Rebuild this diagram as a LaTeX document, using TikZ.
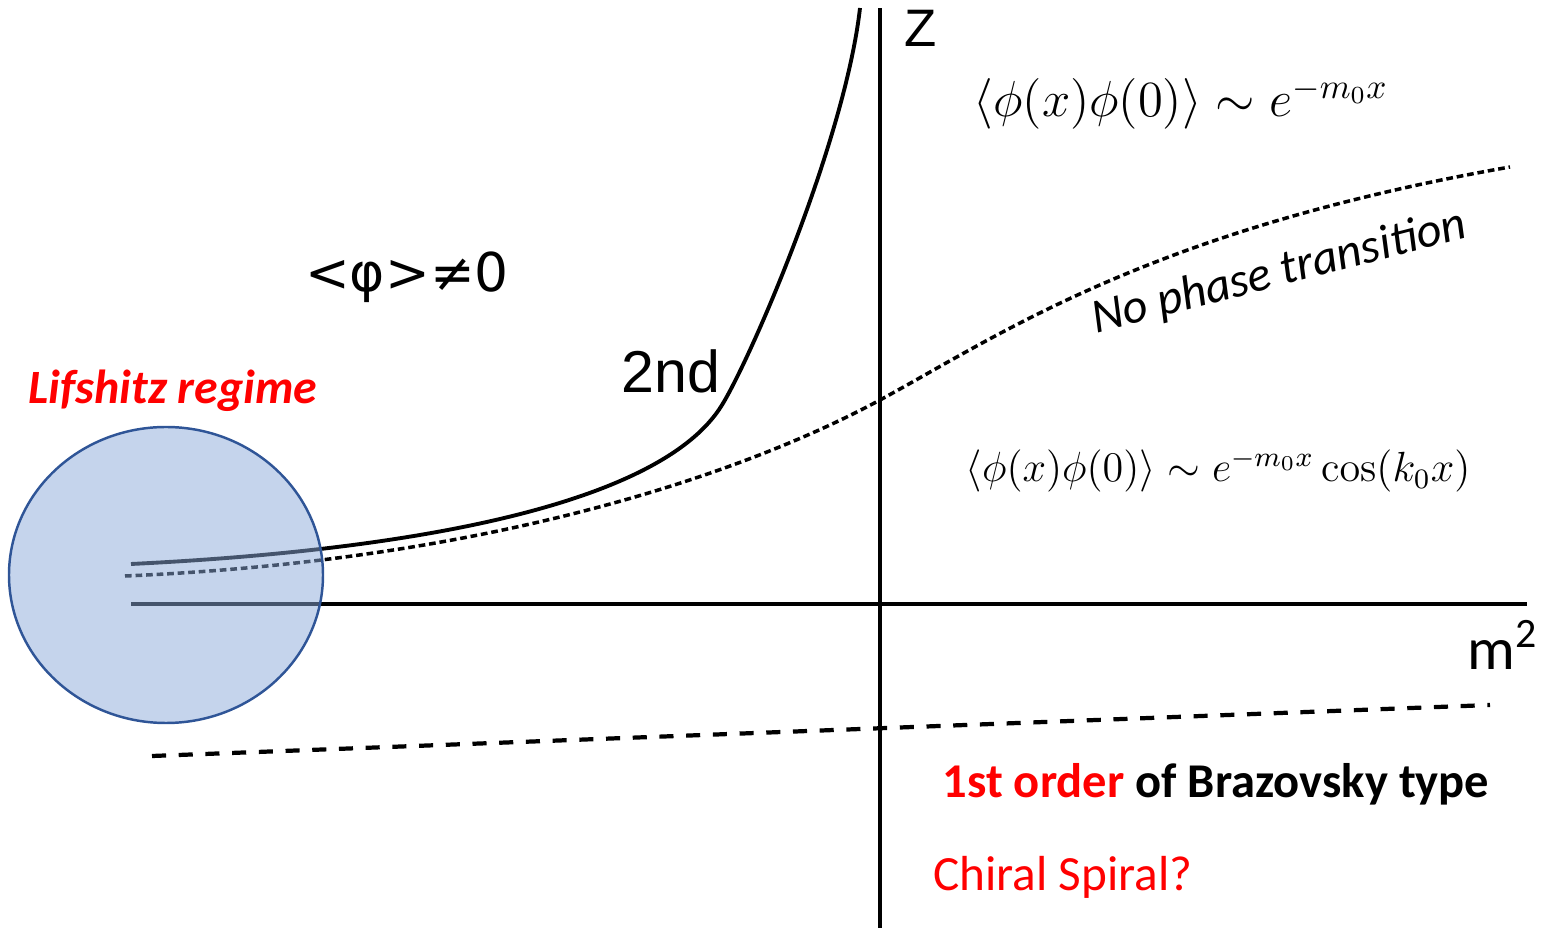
\documentclass[tikz,border=0pt]{standalone}
\usepackage[no-math]{fontspec}
\setmainfont{Carlito}
\newfontfamily\arialf{Liberation Sans}
\newfontfamily\dejavuf{DejaVu Sans}
\usepackage{amssymb,amsmath}
\usepackage{xcolor}
\usetikzlibrary{arrows.meta}
\definecolor{lifblue}{HTML}{2F5597}
\definecolor{liffill}{HTML}{8BA9D9}

\begin{document}
\begin{tikzpicture}[x=0.01cm, y=-0.01cm, line width=1.1pt]

  \tikzset{lbl/.style={inner sep=0pt, anchor=base},
           crit/.style={line width=1.1pt},
           nopt/.style={line width=1pt, dash pattern=on 1.9pt off 1.1pt},
           brz/.style={line width=1.2pt, dash pattern=on 4pt off 3.6pt}}

  \useasboundingbox (0,0) rectangle (1545,928);

  % axes
  \coordinate (zbot) at (880,928);
  \coordinate (ztop) at (880,8);
  \coordinate (mleft) at (131,604);
  \coordinate (mright) at (1527,604);
  \draw (zbot) -- (ztop);
  \draw (mleft) -- (mright);

  % second order line
  \draw[crit] (131,564) .. controls (420,550) and (662,503) .. (722,405)
                        .. controls (752,356) and (845,140) .. (860,8);

  % no phase transition
  \draw[nopt] (125,576) .. controls (500,560) and (750,470) .. (880,400)
                        .. controls (1000,335) and (1150,230) .. (1510,167);

  % first order, Brazovsky
  \coordinate (bl) at (152,756);
  \coordinate (br) at (1490,705);
  \draw[brz] (bl) -- (br);

  % Lifshitz region
  \draw[draw=lifblue, fill=liffill, fill opacity=0.5, line width=0.7pt]
    (166,575) ellipse [x radius=157, y radius=148];

  % labels
  \node[lbl, text=red, font=\fontsize{13.6}{16}\selectfont\bfseries\itshape]
    (lif) at (173,404) {Lifshitz regime};
  \node[lbl, font=\dejavuf\fontsize{15.2}{18}\selectfont] (vev) at (407,292) {<φ>≠0};
  \node[lbl, font=\arialf\fontsize{16.8}{20}\selectfont] (snd) at (671,393) {2nd};
  \node[lbl, font=\arialf\fontsize{15}{18}\selectfont] (zlab) at (921,47) {Z};
  \node[lbl, font=\fontsize{17}{20}\selectfont] (mlab) at (1503,670)
    {m\textsuperscript{2}};
  \node[lbl, font=\fontsize{14.6}{17}\selectfont] (corr1) at (1181,117)
    {$\langle\phi(x)\phi(0)\rangle\sim e^{-m_0x}$};
  \node[lbl, font=\fontsize{11.6}{14}\selectfont] (corr2) at (1218,482)
    {$\langle\phi(x)\phi(0)\rangle\sim e^{-m_0x}\cos(k_0x)$};
  \node[anchor=center, inner sep=0pt, rotate=14.5,
        font=\fontsize{13.8}{17}\selectfont\itshape] (npt) at (1279,273)
    {No phase transition};
  \node[lbl, font=\fontsize{13.8}{17}\selectfont\bfseries] (brlab) at (1216,798)
    {\textcolor{red}{1st order} of Brazovsky type};
  \node[lbl, text=red, font=\fontsize{14}{17}\selectfont] (chs) at (1063,891)
    {Chiral Spiral?};

\end{tikzpicture}
\end{document}
